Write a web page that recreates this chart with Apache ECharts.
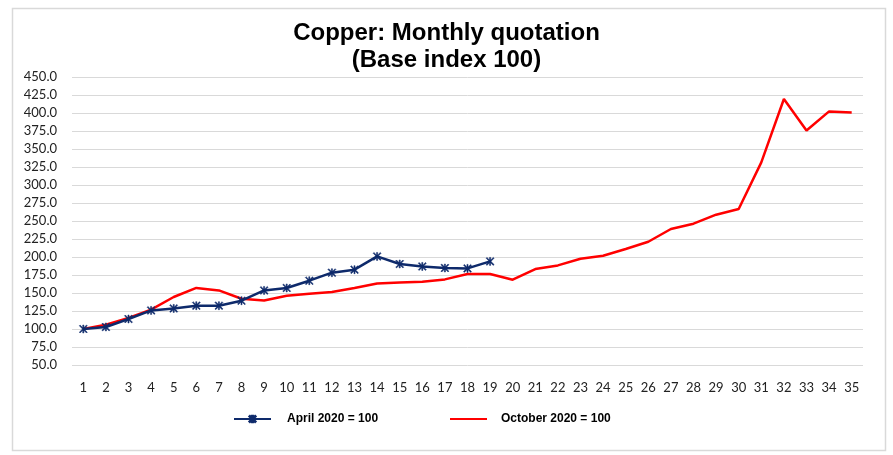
<!DOCTYPE html>
<html>
<head>
<meta charset="utf-8">
<script src="https://cdn.jsdelivr.net/npm/echarts@6/dist/echarts.min.js"></script>
<style>html,body{margin:0;padding:0;background:#fff;}#c{width:893px;height:455px;}</style>
</head>
<body>
<div id="c"></div>
<script>
const categories = ["1","2","3","4","5","6","7","8","9","10","11","12","13","14","15","16","17","18","19","20","21","22","23","24","25","26","27","28","29","30","31","32","33","34","35"];
const april2020 = [100, 102.8, 113.9, 125.8, 128.6, 132.4, 132.4, 139.3, 153.6, 157, 167.1, 178.2, 182.4, 200.8, 190.3, 186.9, 184.7, 184.2, 193.9];
const october2020 = [100, 106, 115.3, 126.8, 144.4, 157, 153.6, 142, 139.7, 146.3, 149, 151.4, 157, 163.3, 164.7, 165.7, 168.9, 176.4, 176.4, 168.5, 183.3, 188.3, 197.6, 201.8, 211.1, 221.2, 238.9, 246.3, 258.8, 266.7, 331.4, 419.4, 375.8, 402.2, 400.8];
const seriesNames = ["April 2020 = 100", "October 2020 = 100"];
const titleText = "Copper: Monthly quotation\n(Base index 100)";

const starPath = 'path://M4.3,0 L5.7,0 L5.7,10 L4.3,10 Z M0,1 L1,0 L10,9 L9,10 Z M9,0 L10,1 L1,10 L0,9 Z';

const chart = echarts.init(document.getElementById('c'));
chart.setOption({
  backgroundColor: '#fff',
  animation: false,
  graphic: [{
    type: 'rect', left: 10, top: 6, shape: { width: 873, height: 442 },
    style: { fill: 'none', stroke: '#d9d9d9', lineWidth: 1.5 }, silent: true
  }],
  title: {
    text: titleText, left: 'center', top: 20, padding: 0,
    textStyle: { fontFamily: 'Liberation Sans', fontWeight: 'bold', fontSize: 24, lineHeight: 27, color: '#000' }
  },
  legend: [{
    data: [seriesNames[0]], left: 228, top: 408, itemWidth: 37, itemHeight: 8,
    textStyle: { fontFamily: 'Liberation Sans', fontWeight: 'bold', fontSize: 12, color: '#000', padding: [0, 0, 0, 11] }
  }, {
    data: [{ name: seriesNames[1], itemStyle: { color: 'transparent', borderColor: 'transparent', opacity: 0 } }],
    left: 444, top: 408, itemWidth: 37, itemHeight: 8,
    textStyle: { fontFamily: 'Liberation Sans', fontWeight: 'bold', fontSize: 12, color: '#000', padding: [0, 0, 0, 9] }
  }],
  grid: { left: 72, right: 30, top: 77, bottom: 90 },
  xAxis: {
    type: 'category', data: categories, boundaryGap: true,
    axisLine: { show: false }, axisTick: { show: false },
    axisLabel: { fontFamily: 'Lato', fontSize: 13, color: '#222', margin: 16, interval: 0 }
  },
  yAxis: {
    type: 'value', min: 50, max: 450, interval: 25,
    axisLine: { show: false }, axisTick: { show: false },
    splitLine: { lineStyle: { color: '#d9d9d9', width: 1 } },
    axisLabel: { fontFamily: 'Lato', fontSize: 13, color: '#222', margin: 15, formatter: v => v.toFixed(1) }
  },
  series: [{
    name: seriesNames[0], type: 'line', data: april2020, z: 3,
    symbol: starPath, symbolSize: 8, showSymbol: true,
    lineStyle: { color: '#0e2a6b', width: 2.5 },
    itemStyle: { color: '#0e2a6b', borderColor: '#0e2a6b', borderWidth: 0.5 }
  }, {
    name: seriesNames[1], type: 'line', data: october2020, z: 2,
    symbol: 'none',
    lineStyle: { color: '#ff0000', width: 2.5 },
    itemStyle: { color: '#ff0000' }
  }]
});
</script>
</body>
</html>
